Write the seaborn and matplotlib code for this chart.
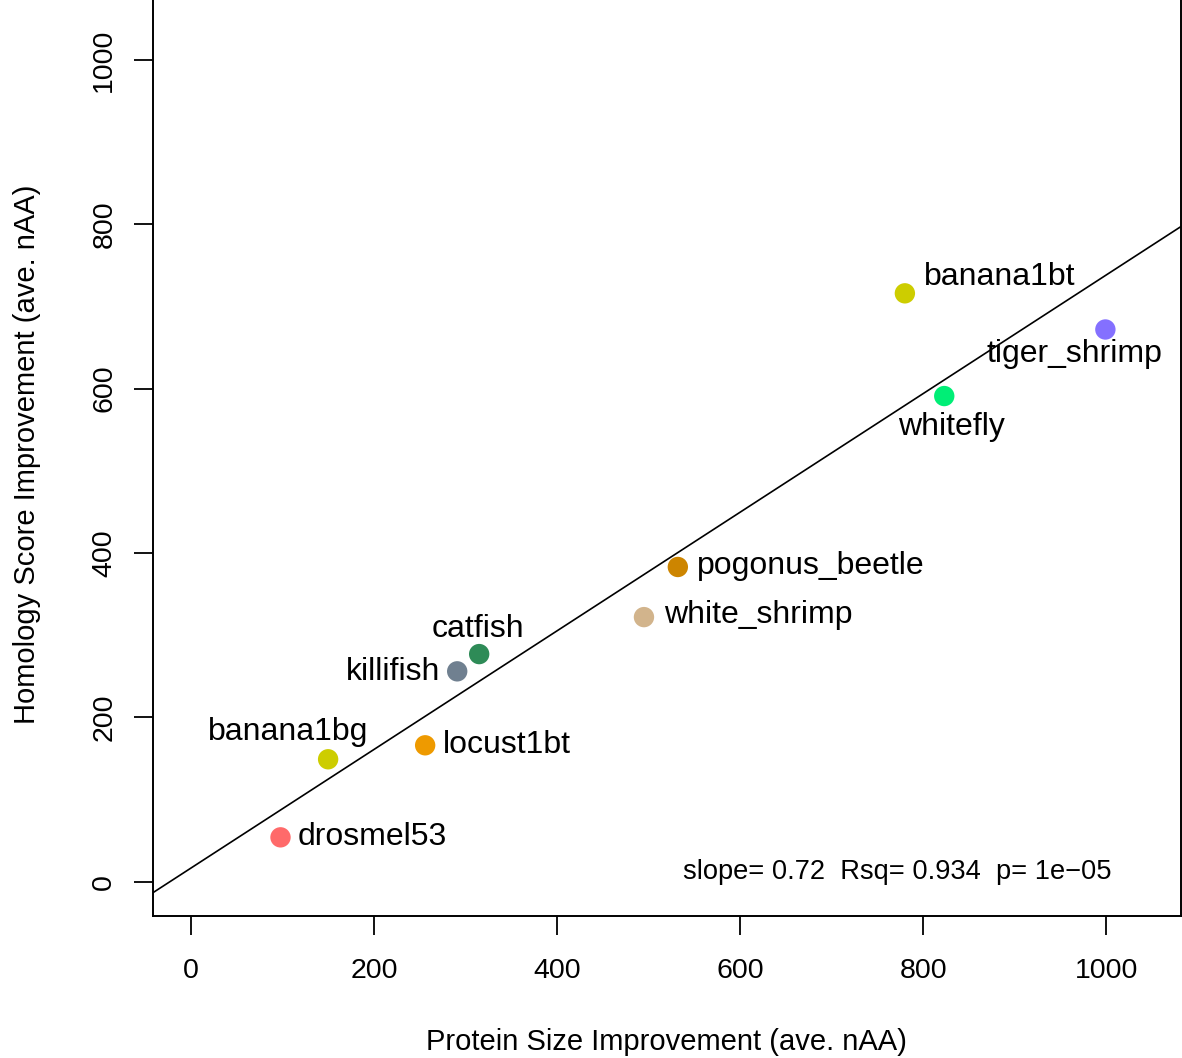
import matplotlib
matplotlib.use('Agg')
import matplotlib.pyplot as plt
import seaborn as sns
import pandas as pd

# values
species = ['drosmel53', 'banana1bg', 'locust1bt', 'killifish', 'catfish',
           'white_shrimp', 'pogonus_beetle', 'whitefly', 'banana1bt', 'tiger_shrimp']
size_gain = [98, 150, 256, 291, 315, 495, 532, 823, 780, 999]
score_gain = [54, 149, 166, 256, 277, 322, 383, 591, 716, 672]
colors = ['#FF6A6A', '#CDCD00', '#EE9A00', '#708090', '#2E8B57',
          '#D2B48C', '#CD8500', '#00EE76', '#CDCD00', '#8470FF']
ticks = [0, 200, 400, 600, 800, 1000]
stats_text = 'slope= 0.72  Rsq= 0.934  p= 1e\u221205'

# label placement: (ha, dx px, dy px)
label_pos = {
    'drosmel53': ('left', 17, -8),
    'banana1bg': ('center', -40, 19),
    'locust1bt': ('left', 18, -8),
    'killifish': ('right', -17, -9),
    'catfish': ('center', -1, 17),
    'white_shrimp': ('left', 20, -6),
    'pogonus_beetle': ('left', 19, -7),
    'whitefly': ('center', 7, -39),
    'banana1bt': ('left', 19, 8),
    'tiger_shrimp': ('center', -31, -33),
}

df = pd.DataFrame({'species': species, 'size': size_gain, 'score': score_gain})

sns.set_theme(style='white', rc={'text.color': 'black', 'axes.labelcolor': 'black',
                                 'xtick.color': 'black', 'ytick.color': 'black'})
plt.rcParams['font.family'] = ['Liberation Sans', 'DejaVu Sans']

fig = plt.figure(figsize=(11.82, 10.58), dpi=100)
ax = fig.add_axes([152.7 / 1182, 1 - 915.9 / 1058, 1028.3 / 1182, 923.0 / 1058])

xlim = (-41.6, 1081.6)
ylim = (-41.6, 1081.6)
ax.set_xlim(xlim)
ax.set_ylim(ylim)

sns.regplot(x='size', y='score', data=df, scatter=False, ci=None, truncate=False,
            color='black', line_kws={'linewidth': 1.2}, ax=ax)
sns.scatterplot(x='size', y='score', data=df, hue='species',
                palette=dict(zip(species, colors)), s=215, linewidth=0,
                legend=False, ax=ax, zorder=3)
ax.set_xlim(xlim)
ax.set_ylim(ylim)

for name, xv, yv in zip(species, size_gain, score_gain):
    ha, dx, dy = label_pos[name]
    ax.annotate(name, (xv, yv), xytext=(dx, dy), textcoords='offset pixels',
                ha=ha, va='baseline', fontsize=23, color='black')

ax.text(0.7243, 0.040, stats_text, transform=ax.transAxes, ha='center',
        va='baseline', fontsize=19.6, color='black')

ax.set_xticks(ticks)
ax.set_yticks(ticks)
ax.tick_params(axis='both', length=13.5, width=1.3, colors='black',
               labelsize=20.5, direction='out', bottom=True, left=True)
ax.tick_params(axis='x', pad=17)
ax.tick_params(axis='y', pad=12)
for lab in ax.get_yticklabels():
    lab.set_rotation(90)
    lab.set_va('center')
    lab.set_ha('right')

for side in ['left', 'bottom', 'right', 'top']:
    ax.spines[side].set_color('black')
    ax.spines[side].set_linewidth(1.4)

ax.set_xlabel('Protein Size Improvement (ave. nAA)', fontsize=21, color='black')
ax.set_ylabel('Homology Score Improvement (ave. nAA)', fontsize=21, color='black')
ax.xaxis.set_label_coords(0.5, -(1042 - 915.9) / 923.0)
ax.xaxis.label.set_va('center')
ax.yaxis.set_label_coords(-(152.7 - 27) / 1028.3, 0.5)
ax.yaxis.label.set_va('center')
ax.yaxis.label.set_ha('center')

fig.savefig('out.png', dpi=100)
